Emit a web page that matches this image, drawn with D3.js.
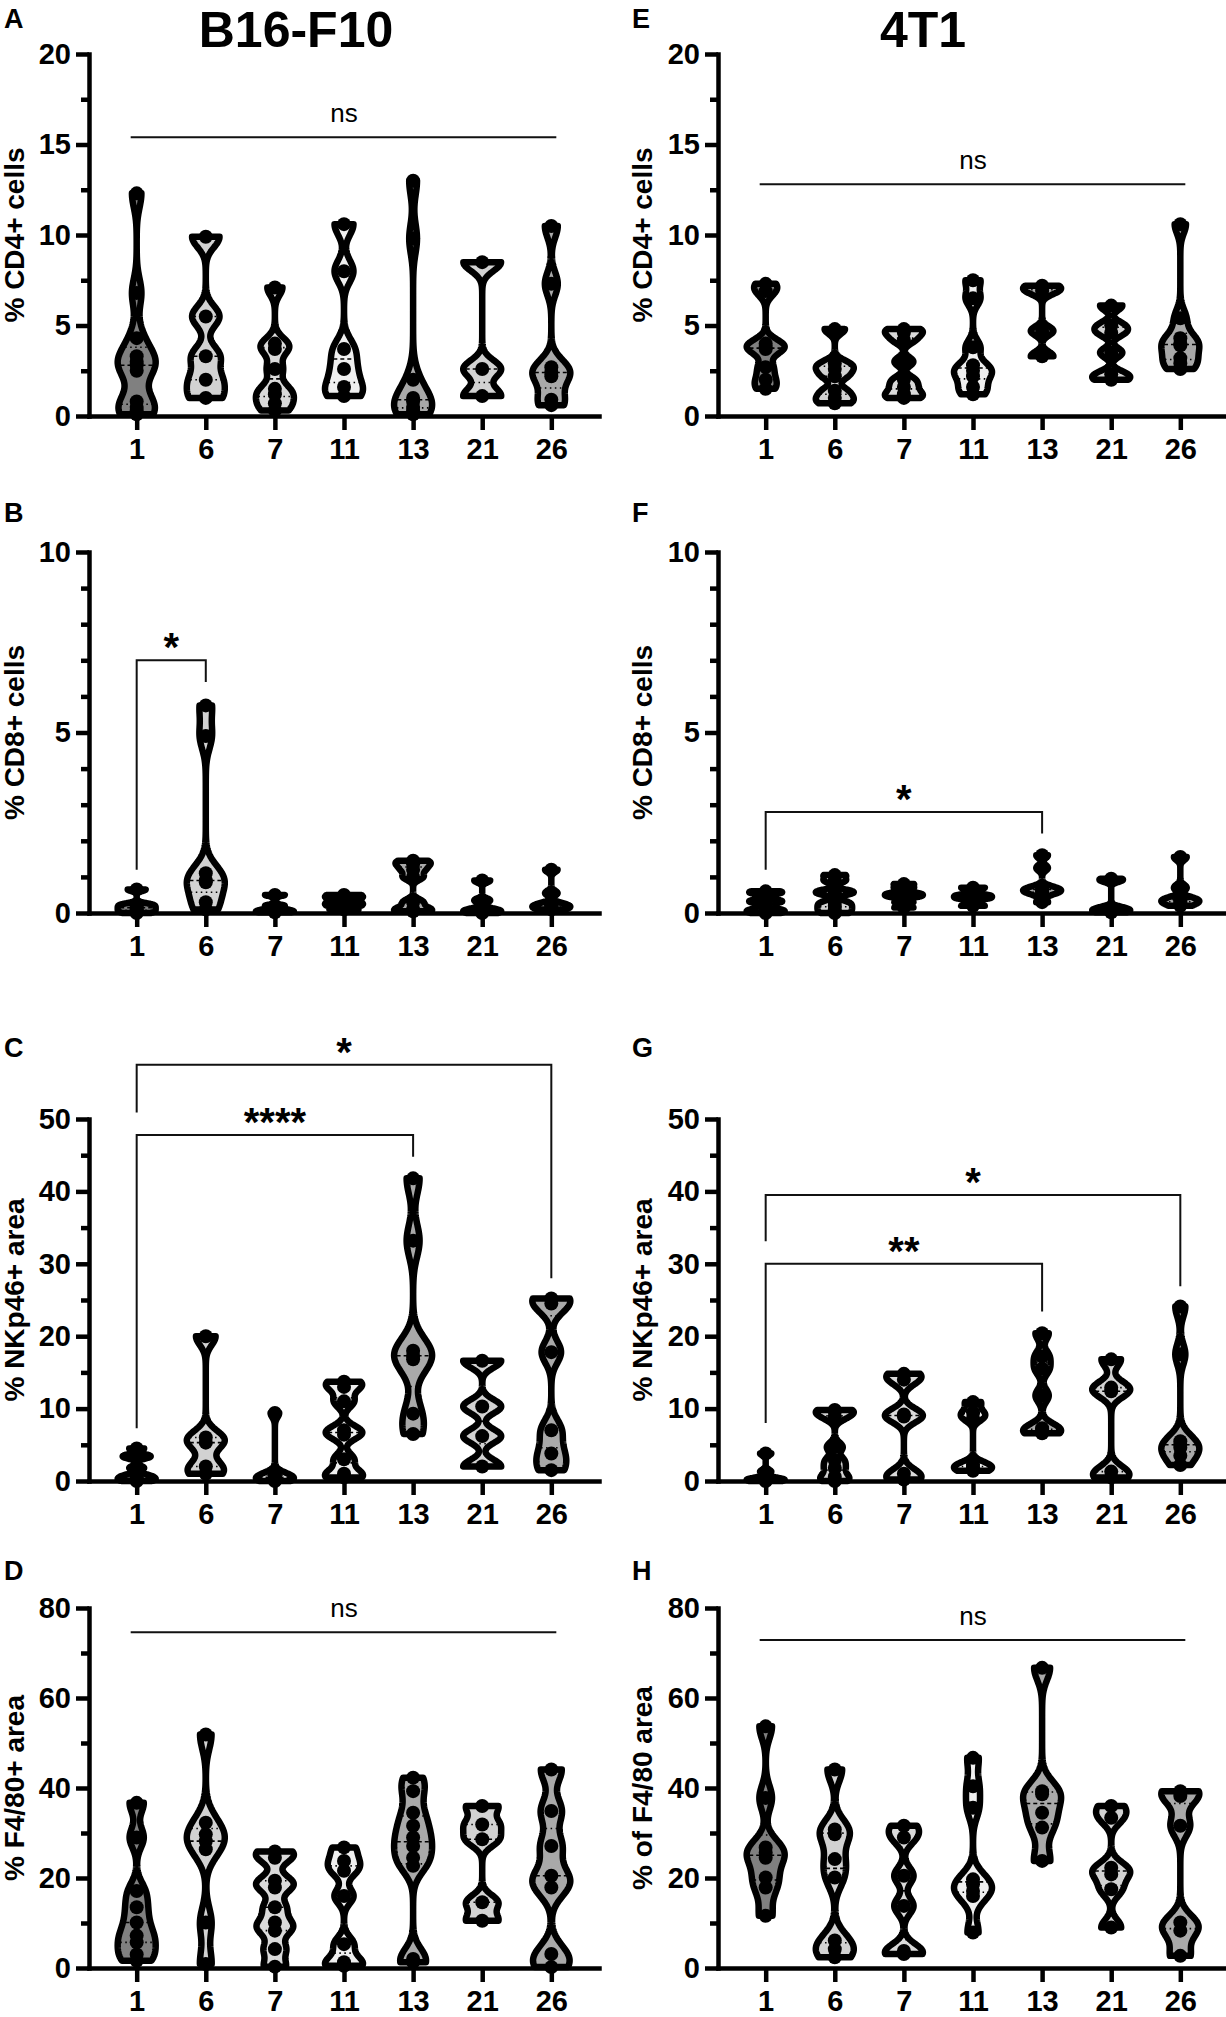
<!DOCTYPE html>
<html lang="en">
<head>
<meta charset="UTF-8">
<title>CD4, CD8, NKp46 and F4/80 over time</title>
<script src="https://d3js.org/d3.v7.min.js"></script>
<style>
  body { margin: 0; background: #fff; }
  svg { display: block; font-family: "Liberation Sans", Arial, sans-serif; }
  .axis path, .axis line { stroke: #000; stroke-width: 4.5px; }
  .axis path { stroke-linecap: square; }
  .axis text { font-size: 29px; font-weight: bold; fill: #000; font-family: "Liberation Sans", Arial, sans-serif; }
  .ylabel { font-size: 28px; font-weight: bold; }
  .letter { font-size: 27px; font-weight: bold; }
  .title { font-size: 50px; font-weight: bold; }
  .ns { font-size: 26px; }
  .star { font-size: 40px; font-weight: bold; }
</style>
</head>
<body>
<svg id="fig" width="1226" height="2017"></svg>
<script>
const days = ["1", "6", "7", "11", "13", "21", "26"];
const fills = ["#808080", "#d2d2d2", "#dadada", "#efefef", "#a9a9a9", "#d2d2d2", "#a9a9a9"];

// B16-F10, one array of points per day
const cd4B16 = [
  [12.3, 6.8, 4.3, 3.3, 3.0, 2.8, 2.5, 0.8, 0.5, 0.3, 0.1],
  [9.9, 5.5, 3.3, 2.0, 1.0],
  [7.1, 4.0, 3.7, 2.6, 1.5, 1.2, 0.7, 0.3],
  [10.6, 8.0, 3.7, 2.6, 1.6, 1.1],
  [13.0, 9.8, 2.0, 1.0, 0.8, 0.5, 0.3, 0.1],
  [8.5, 2.6, 1.1],
  [10.5, 7.3, 2.7, 2.4, 2.2, 0.9, 0.6]
];
const cd8B16 = [
  [0.65, 0.25, 0.2, 0.15, 0.1, 0.05, 0.0],
  [5.75, 4.9, 1.1, 0.9, 0.85, 0.3, 0.1],
  [0.5, 0.2, 0.1, 0.05, 0.02],
  [0.5, 0.45, 0.4, 0.3, 0.25, 0.2, 0.1],
  [1.45, 1.35, 1.2, 1.0, 0.3, 0.1, 0.05],
  [0.9, 0.35, 0.1, 0.05, 0.0],
  [1.2, 0.55, 0.25, 0.2, 0.15, 0.1]
];
const nkB16 = [
  [4.5, 3.5, 3.3, 1.8, 0.8, 0.5, 0.2, 0.0],
  [20.0, 6.0, 5.3, 2.0, 1.0],
  [9.4, 0.9, 0.6, 0.4, 0.2, 0.0],
  [13.7, 13.0, 11.0, 7.0, 6.4, 3.0, 1.0, 0.5],
  [41.8, 33.2, 18.0, 17.3, 16.8, 9.3, 6.5],
  [16.6, 10.3, 6.2, 2.0],
  [25.2, 24.5, 17.8, 7.0, 3.8, 1.5]
];
const f480B16 = [
  [36.7, 29.0, 17.1, 13.5, 10.1, 7.2, 5.7, 3.0, 1.6],
  [51.9, 32.3, 29.7, 28.2, 26.4, 10.1, 0.9],
  [25.9, 24.5, 19.4, 17.9, 13.5, 10.1, 8.3, 4.2, 0.3],
  [26.8, 23.8, 21.6, 16.0, 5.3, 1.3, 0.5],
  [42.3, 39.3, 34.5, 31.6, 29.0, 27.1, 24.5, 22.7, 2.0, 1.3],
  [36.0, 31.9, 28.6, 14.6, 10.5],
  [44.1, 34.9, 27.1, 20.5, 17.9, 3.1, 0.2]
];

// 4T1
const cd4T1 = [
  [7.3, 6.9, 4.0, 3.8, 3.7, 2.7, 2.0, 1.5],
  [4.8, 2.9, 2.6, 2.2, 1.4, 1.0, 0.7],
  [4.8, 4.6, 4.2, 3.0, 2.0, 1.6, 1.2, 1.0],
  [7.5, 6.5, 3.8, 2.8, 2.5, 2.2, 1.6, 1.2],
  [7.2, 6.9, 4.7, 3.3],
  [6.1, 5.0, 4.6, 3.5, 2.3, 2.0],
  [10.6, 5.4, 4.3, 4.0, 3.9, 3.2, 2.9, 2.6]
];
const cd8T1 = [
  [0.6, 0.55, 0.35, 0.3, 0.2, 0.1, 0.05, 0.0],
  [1.05, 0.9, 0.6, 0.55, 0.3, 0.2, 0.1, 0.0],
  [0.8, 0.7, 0.55, 0.5, 0.45, 0.3, 0.15],
  [0.7, 0.5, 0.45, 0.4, 0.2],
  [1.6, 1.25, 0.7, 0.65, 0.6, 0.55, 0.3],
  [0.95, 0.9, 0.15, 0.1, 0.05, 0.02],
  [1.55, 0.7, 0.4, 0.35, 0.3, 0.2]
];
const nkT1 = [
  [3.8, 1.3, 0.4, 0.2, 0.1, 0.0],
  [9.8, 9.6, 8.8, 4.7, 2.9, 1.8, 0.6, 0.0],
  [14.8, 14.0, 9.2, 8.9, 1.0, 0.2],
  [10.9, 9.5, 8.7, 2.3, 1.9, 1.4],
  [20.4, 17.2, 15.5, 11.8, 7.3, 7.0, 6.6],
  [16.8, 12.9, 12.4, 1.3, 0.5],
  [24.1, 17.5, 5.5, 5.0, 4.6, 3.5, 2.2]
];
const f480T1 = [
  [53.7, 37.8, 26.8, 25.6, 24.5, 20.1, 17.9, 11.6],
  [44.1, 30.8, 29.7, 24.2, 20.1, 6.1, 4.2, 2.4],
  [31.6, 29.0, 20.5, 13.8, 3.8, 3.1],
  [46.7, 40.4, 35.6, 19.7, 18.6, 17.1, 16.0, 7.9],
  [66.7, 39.3, 38.6, 34.5, 31.2, 23.8],
  [36.0, 33.4, 22.3, 20.8, 17.5, 9.0],
  [39.3, 38.2, 31.6, 10.1, 8.3, 2.7]
];

// significance marks: [from day, to day, left foot, bar, right foot, text]
const sigA = [["1", "26", null, 15.4, null, "ns"]];
const sigB = [["1", "6", 1.2, 7.0, 6.4, "*"]];
const sigC = [["1", "13", 7.3, 47.8, 44.8, "****"], ["1", "26", 50.9, 57.5, 28.0, "*"]];
const sigD = [["1", "26", null, 74.6, null, "ns"]];
const sigE = [["1", "26", null, 12.8, null, "ns"]];
const sigF = [["1", "13", 1.2, 2.8, 2.2, "*"]];
const sigG = [["1", "13", 8.0, 30.0, 23.4, "**"], ["1", "26", 33.1, 39.5, 26.9, "*"]];
const sigH = [["1", "26", null, 72.9, null, "ns"]];

const svg = d3.select("#fig");
svg.append("rect").attr("width", 1226).attr("height", 2017).attr("fill", "#fff");

const cols = [{ax: 89, end: 599, dx: 0}, {ax: 718, end: 1228, dx: 628}];
const rows = [
  {top: 54, bottom: 416, letterY: 28},
  {top: 552, bottom: 913, letterY: 522},
  {top: 1119, bottom: 1481, letterY: 1057},
  {top: 1608, bottom: 1968, letterY: 1580}
];

const panels = [
  {letter: "A", col: 0, row: 0, data: cd4B16, max: 20, major: 5, minor: 2.5, label: "% CD4+ cells", sig: sigA},
  {letter: "B", col: 0, row: 1, data: cd8B16, max: 10, major: 5, minor: 1, label: "% CD8+ cells", sig: sigB},
  {letter: "C", col: 0, row: 2, data: nkB16, max: 50, major: 10, minor: 5, label: "% NKp46+ area", sig: sigC},
  {letter: "D", col: 0, row: 3, data: f480B16, max: 80, major: 20, minor: 10, label: "% F4/80+ area", sig: sigD},
  {letter: "E", col: 1, row: 0, data: cd4T1, max: 20, major: 5, minor: 2.5, label: "% CD4+ cells", sig: sigE},
  {letter: "F", col: 1, row: 1, data: cd8T1, max: 10, major: 5, minor: 1, label: "% CD8+ cells", sig: sigF},
  {letter: "G", col: 1, row: 2, data: nkT1, max: 50, major: 10, minor: 5, label: "% NKp46+ area", sig: sigG},
  {letter: "H", col: 1, row: 3, data: f480T1, max: 80, major: 20, minor: 10, label: "% of F4/80 area", sig: sigH}
];

svg.append("text").attr("class", "title").attr("x", 296).attr("y", 47)
  .attr("text-anchor", "middle").text("B16-F10");
svg.append("text").attr("class", "title").attr("x", 923).attr("y", 47)
  .attr("text-anchor", "middle").text("4T1");

const halfW = 19;

// gaussian kernel density, cut at the min and max of the group
function density(vals) {
  const lo = d3.min(vals), hi = d3.max(vals);
  const bw = Math.max((hi - lo) * 0.065, 1e-4);
  const kern = v => d3.sum(vals, p => Math.exp(-0.5 * ((v - p) / bw) ** 2));
  const n = 160;
  const pts = d3.range(n + 1).map(i => {
    const v = lo + (hi - lo) * i / n;
    return [v, kern(v)];
  });
  const dmax = d3.max(pts, p => p[1]);
  pts.forEach(p => p[1] /= dmax);
  return {pts, at: v => kern(v) / dmax};
}

panels.forEach(p => {
  const c = cols[p.col], r = rows[p.row];
  const g = svg.append("g");

  const x = d3.scalePoint().domain(days).range([c.ax, c.end]).padding(0.69);
  const y = d3.scaleLinear().domain([0, p.max]).range([r.bottom, r.top]);

  // violins
  p.data.forEach((vals, i) => {
    const cx = x(days[i]);
    const k = density(vals);
    const area = d3.area()
      .y(d => y(d[0]))
      .x0(d => cx - halfW * d[1])
      .x1(d => cx + halfW * d[1]);
    g.append("path")
      .attr("d", area(k.pts))
      .attr("fill", fills[i])
      .attr("stroke", "#000")
      .attr("stroke-width", 6.5)
      .attr("stroke-linejoin", "round");

    const sorted = vals.slice().sort(d3.ascending);
    [[0.25, "1.5,3.5"], [0.5, "4,3"], [0.75, "1.5,3.5"]].forEach(([q, dash]) => {
      const v = d3.quantile(sorted, q);
      const w = halfW * k.at(v) - 2.5;
      if (w <= 0) return;
      g.append("line")
        .attr("x1", cx - w).attr("x2", cx + w)
        .attr("y1", y(v)).attr("y2", y(v))
        .attr("stroke", "#000").attr("stroke-width", 1.6)
        .attr("stroke-dasharray", dash);
    });

    g.selectAll(null).data(vals).join("circle")
      .attr("cx", cx).attr("cy", d => y(d)).attr("r", 7).attr("fill", "#000");
  });

  // axes
  const majors = d3.range(0, p.max + 1e-9, p.major);
  const minors = d3.range(0, p.max + 1e-9, p.minor)
    .filter(v => Math.abs(v / p.major - Math.round(v / p.major)) > 1e-6);

  g.append("g").attr("class", "axis")
    .attr("transform", `translate(${c.ax},0)`)
    .call(d3.axisLeft(y).tickValues(minors).tickSize(8).tickSizeOuter(0).tickFormat(""))
    .call(a => a.select(".domain").remove());
  g.append("g").attr("class", "axis")
    .attr("transform", `translate(${c.ax},0)`)
    .call(d3.axisLeft(y).tickValues(majors).tickSize(13).tickSizeOuter(0).tickPadding(5).tickFormat(d3.format("d")));

  g.append("g").attr("class", "axis")
    .attr("transform", `translate(0,${r.bottom})`)
    .call(d3.axisBottom(x).tickSize(14).tickSizeOuter(0).tickPadding(8));

  // y label
  g.append("text").attr("class", "ylabel")
    .attr("transform", `translate(${24 + c.dx},${(r.top + r.bottom) / 2}) rotate(-90)`)
    .attr("text-anchor", "middle").text(p.label);

  // panel letter
  g.append("text").attr("class", "letter")
    .attr("x", 4 + c.dx).attr("y", r.letterY).text(p.letter);

  // significance
  p.sig.forEach(([a, b, footL, bar, footR, txt]) => {
    const xa = x(a), xb = x(b), yb = y(bar);
    if (txt === "ns") {
      g.append("line")
        .attr("x1", xa - 6).attr("x2", xb + 5)
        .attr("y1", yb).attr("y2", yb)
        .attr("stroke", "#111").attr("stroke-width", 2);
      g.append("text").attr("class", "ns")
        .attr("x", (xa + xb) / 2).attr("y", yb - 15)
        .attr("text-anchor", "middle").text("ns");
    } else {
      g.append("path")
        .attr("d", d3.line()([[xa, y(footL)], [xa, yb], [xb, yb], [xb, y(footR)]]))
        .attr("fill", "none").attr("stroke", "#111").attr("stroke-width", 2);
      g.append("text").attr("class", "star")
        .attr("x", (xa + xb) / 2).attr("y", yb + 1)
        .attr("text-anchor", "middle").text(txt);
    }
  });
});
</script>
</body>
</html>
